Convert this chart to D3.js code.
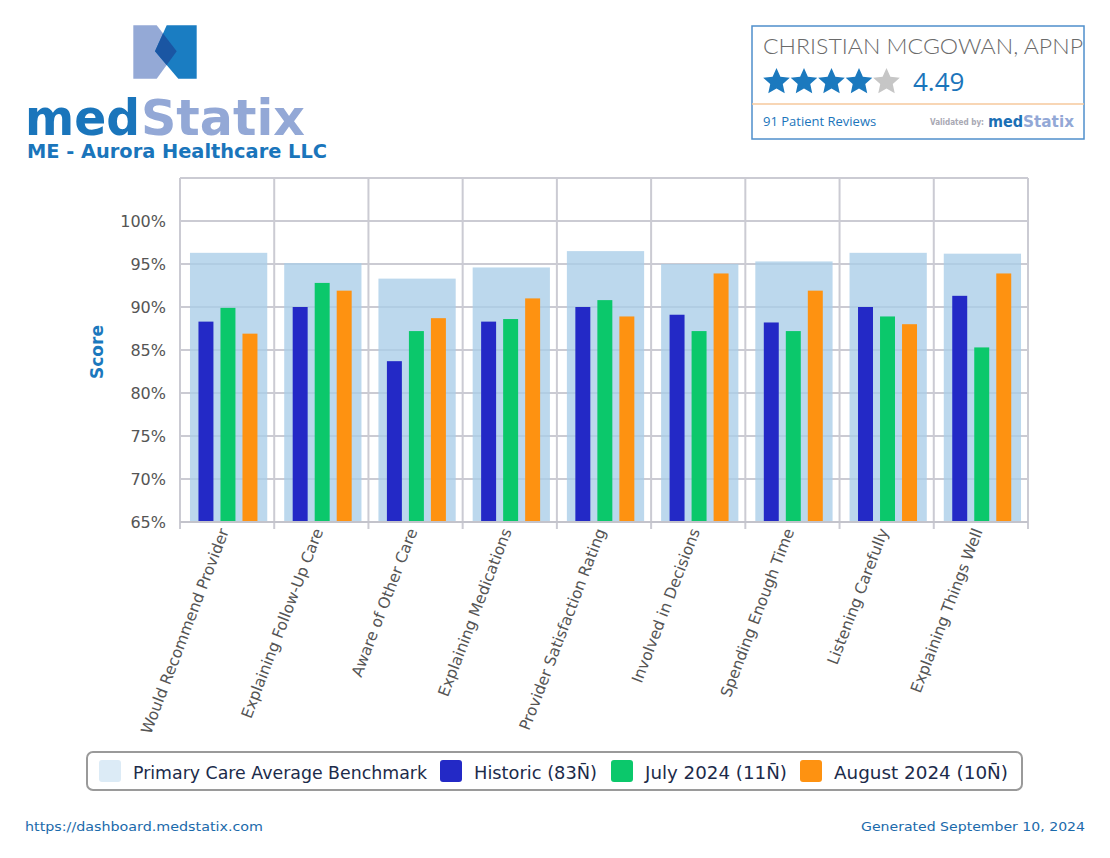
<!DOCTYPE html>
<html>
<head>
<meta charset="utf-8">
<script src="https://cdn.jsdelivr.net/npm/d3@7/dist/d3.min.js"></script>
<style>
  html, body { margin: 0; padding: 0; background: #fff; }
  svg { display: block; }
</style>
</head>
<body>
<svg id="chart" width="1110" height="858"></svg>
<script>
// ---------- DATA ----------
const categories = [
  "Would Recommend Provider",
  "Explaining Follow-Up Care",
  "Aware of Other Care",
  "Explaining Medications",
  "Provider Satisfaction Rating",
  "Involved in Decisions",
  "Spending Enough Time",
  "Listening Carefully",
  "Explaining Things Well"
];
const benchmark = [96.3, 95.1, 93.3, 94.6, 96.5, 95.0, 95.3, 96.3, 96.2];
const historic  = [88.3, 90.0, 83.7, 88.3, 90.0, 89.1, 88.2, 90.0, 91.3];
const july2024  = [89.9, 92.8, 87.2, 88.6, 90.8, 87.2, 87.2, 88.9, 85.3];
const aug2024   = [86.9, 91.9, 88.7, 91.0, 88.9, 93.9, 91.9, 88.0, 93.9];
const seriesNames = ["Historic (83N\u0304)", "July 2024 (11N\u0304)", "August 2024 (10N\u0304)"];
const legendNames = ["Primary Care Average Benchmark"].concat(seriesNames);
const yTicks = [65, 70, 75, 80, 85, 90, 95, 100];
const yDomain = [65, 105];

const seriesData = [historic, july2024, aug2024];
const seriesColors = ["#2329c6", "#0bc86b", "#fe9211"];
const benchColor = "#a9cde8";

const svg = d3.select("#chart");
const FONT = "DejaVu Sans, Verdana, sans-serif";
const defs = svg.append("defs");

// ---------- SCALES ----------
const plot = {left: 180, right: 1028, top: 178, bottom: 522};
const x = d3.scaleBand().domain(categories).range([plot.left, plot.right]).paddingInner(0).paddingOuter(0);
const y = d3.scaleLinear().domain(yDomain).range([plot.bottom, plot.top]);
const bw = x.bandwidth();
const xs = d3.scaleBand().domain(d3.range(3)).range([bw * 0.196, bw * 0.822]).paddingInner(0.32).paddingOuter(0);

// ---------- GRID ----------
const grid = svg.append("g");
grid.selectAll("line.h").data(yTicks.concat([105])).join("line")
  .attr("x1", plot.left).attr("x2", plot.right)
  .attr("y1", d => y(d)).attr("y2", d => y(d))
  .attr("stroke", "#cbcbd3").attr("stroke-width", 2);
const bounds = categories.map(c => x(c)).concat([plot.right]);
grid.selectAll("line.v").data(bounds).join("line")
  .attr("x1", d => d).attr("x2", d => d)
  .attr("y1", plot.top).attr("y2", plot.bottom + 7)
  .attr("stroke", "#cbcbd3").attr("stroke-width", 2);

// ---------- BENCHMARK ----------
svg.append("g").selectAll("rect").data(categories).join("rect")
  .attr("x", c => x(c) + bw * 0.106)
  .attr("width", bw * 0.82)
  .attr("y", (c, i) => y(benchmark[i]))
  .attr("height", (c, i) => y(65) - y(benchmark[i]))
  .attr("fill", benchColor).attr("fill-opacity", 0.78);

// ---------- SERIES BARS ----------
seriesData.forEach((vals, s) => {
  svg.append("g").selectAll("rect").data(categories).join("rect")
    .attr("x", c => x(c) + xs(s))
    .attr("width", xs.bandwidth())
    .attr("y", (c, i) => y(vals[i]))
    .attr("height", (c, i) => y(65) - y(vals[i]))
    .attr("fill", seriesColors[s]);
});

// baseline
svg.append("line").attr("x1", plot.left).attr("x2", plot.right)
  .attr("y1", y(65)).attr("y2", y(65)).attr("stroke", "#c3c3cb").attr("stroke-width", 2);

// ---------- Y AXIS ----------
const yAxis = d3.axisLeft(y).tickValues(yTicks).tickFormat(d => d + "%").tickSize(0).tickPadding(14);
const ya = svg.append("g").attr("transform", `translate(${plot.left},0)`).call(yAxis);
ya.select(".domain").remove();
ya.selectAll("text").attr("font-family", FONT).attr("font-size", 16).attr("fill", "#555").attr("dy", "0.35em");

svg.append("text")
  .attr("transform", `translate(103,${(y(65) + y(105)) / 2 + 2}) rotate(-90)`)
  .attr("text-anchor", "middle")
  .attr("font-family", FONT).attr("font-weight", "bold").attr("font-size", 17)
  .attr("fill", "#1b78bd").text("Score");

// ---------- X LABELS ----------
const xAxis = d3.axisBottom(x).tickSize(0).tickPadding(0);
const xa = svg.append("g").attr("transform", `translate(0,${plot.bottom})`).call(xAxis);
xa.select(".domain").remove();
xa.selectAll("text")
  .attr("font-family", FONT).attr("font-size", 15.5).attr("fill", "#555")
  .attr("text-anchor", "end")
  .attr("dy", 0).attr("y", 0)
  .attr("transform", "translate(2,9) rotate(-69)");

// ---------- LEGEND ----------
const lg = svg.append("g");
lg.append("rect").attr("x", 87).attr("y", 752).attr("width", 935).attr("height", 38)
  .attr("rx", 6).attr("fill", "#fff").attr("stroke", "#9a9a9a").attr("stroke-width", 2);
const legendX = [99, 440, 611, 800];
const legendW = [294, 123, 142, 174];
const legendColors = ["#dcebf6"].concat(seriesColors);
legendNames.forEach((n, i) => {
  lg.append("rect").attr("x", legendX[i]).attr("y", 760).attr("width", 22).attr("height", 22)
    .attr("rx", 3).attr("fill", legendColors[i]);
  lg.append("text").attr("x", legendX[i] + 34).attr("y", 779)
    .attr("font-family", FONT).attr("font-size", 17).attr("fill", "#1c2b4a")
    .attr("textLength", legendW[i]).attr("lengthAdjust", "spacingAndGlyphs").text(n);
});

// ---------- LOGO ----------
const logo = svg.append("g");
const lightPts = [[133.3,25.3],[156.7,25.3],[176.7,51.3],[156.7,78.7],[133.3,78.7]];
const darkPts = [[166.7,25.3],[196.7,25.3],[196.7,78.7],[178.3,78.7],[155,51.3]];
const line = d3.line();
defs.append("clipPath").attr("id", "lightclip")
  .append("path").attr("d", line(lightPts) + "Z");
logo.append("path").attr("d", line(lightPts) + "Z").attr("fill", "#94a9d6");
logo.append("path").attr("d", line(darkPts) + "Z").attr("fill", "#1a7dc2");
logo.append("path").attr("d", line(darkPts) + "Z").attr("fill", "#1a56a3").attr("clip-path", "url(#lightclip)");

logo.append("text").attr("x", 25).attr("y", 135)
  .attr("font-family", "DejaVu Sans, sans-serif").attr("font-weight", "bold").attr("font-size", 50)
  .attr("textLength", 115).attr("lengthAdjust", "spacingAndGlyphs")
  .attr("fill", "#1a75bb").text("med");
logo.append("text").attr("x", 141).attr("y", 135)
  .attr("font-family", "DejaVu Sans, sans-serif").attr("font-weight", "bold").attr("font-size", 50)
  .attr("textLength", 164).attr("lengthAdjust", "spacingAndGlyphs")
  .attr("fill", "#93a8d6").text("Statix");
logo.append("text").attr("x", 27).attr("y", 158)
  .attr("font-family", FONT).attr("font-weight", "bold").attr("font-size", 19)
  .attr("textLength", 300).attr("lengthAdjust", "spacingAndGlyphs")
  .attr("fill", "#1a75bb").text("ME - Aurora Healthcare LLC");

// ---------- REVIEW BOX ----------
const rb = svg.append("g");
rb.append("rect").attr("x", 752).attr("y", 26).attr("width", 332).attr("height", 113)
  .attr("fill", "#fff").attr("stroke", "#4f8fcb").attr("stroke-width", 1.5);
rb.append("text").attr("x", 763).attr("y", 54)
  .attr("font-family", "Lato, 'Open Sans', sans-serif").attr("font-size", 21).attr("font-weight", 300)
  .attr("textLength", 320).attr("lengthAdjust", "spacingAndGlyphs")
  .attr("fill", "#6a6a6a").text("CHRISTIAN MCGOWAN, APNP");
const rating = 4.49;
const starCenters = d3.range(5).map(i => 776.5 + i * 27.5);
const starPts = d3.range(10).map(k => {
  const r = k % 2 === 0 ? 14 : 6.6;
  const a = -Math.PI / 2 + k * Math.PI / 5;
  return [r * Math.cos(a), r * Math.sin(a)];
});
const starD = line(starPts) + "Z";
defs.append("clipPath").attr("id", "starclip").append("rect")
  .attr("x", starCenters[4] - 14).attr("y", 60).attr("width", 28 * (rating - 4)).attr("height", 40);
starCenters.forEach((cx, i) => {
  if (i < 4) {
    rb.append("path").attr("d", starD).attr("transform", `translate(${cx},82)`).attr("fill", "#1b79be");
  } else {
    rb.append("path").attr("d", starD).attr("transform", `translate(${cx},82)`).attr("fill", "#c6c6c6");
    rb.append("path").attr("d", starD).attr("transform", `translate(${cx},82)`).attr("fill", "#1b79be")
      .attr("clip-path", "url(#starclip)");
  }
});
rb.append("text").attr("x", 913).attr("y", 91)
  .attr("font-family", "'Open Sans', sans-serif").attr("font-size", 26)
  .attr("fill", "#1b75bb").text(rating.toFixed(2));
rb.append("line").attr("x1", 752).attr("x2", 1084).attr("y1", 104).attr("y2", 104)
  .attr("stroke", "#f6c99c").attr("stroke-width", 1.5);
rb.append("text").attr("x", 763).attr("y", 126)
  .attr("font-family", "'Open Sans', sans-serif").attr("font-size", 13)
  .attr("fill", "#1b75bb").text("91 Patient Reviews");
rb.append("text").attr("x", 930).attr("y", 125)
  .attr("font-family", FONT).attr("font-size", 8).attr("font-weight", "bold")
  .attr("textLength", 54).attr("lengthAdjust", "spacingAndGlyphs")
  .attr("fill", "#a9a9b4").text("Validated by:");
rb.append("text").attr("x", 988).attr("y", 127)
  .attr("font-family", "DejaVu Sans, sans-serif").attr("font-weight", "bold").attr("font-size", 15)
  .attr("textLength", 35).attr("lengthAdjust", "spacingAndGlyphs")
  .attr("fill", "#1a6fb5").text("med");
rb.append("text").attr("x", 1023).attr("y", 127)
  .attr("font-family", "DejaVu Sans, sans-serif").attr("font-weight", "bold").attr("font-size", 15)
  .attr("textLength", 51).attr("lengthAdjust", "spacingAndGlyphs")
  .attr("fill", "#93a8d6").text("Statix");

// ---------- FOOTER ----------
svg.append("text").attr("x", 25).attr("y", 831)
  .attr("font-family", FONT).attr("font-size", 13)
  .attr("textLength", 238).attr("lengthAdjust", "spacingAndGlyphs")
  .attr("fill", "#1b6aab").text("https://dashboard.medstatix.com");
svg.append("text").attr("x", 1085).attr("y", 831).attr("text-anchor", "end")
  .attr("font-family", FONT).attr("font-size", 13)
  .attr("textLength", 224).attr("lengthAdjust", "spacingAndGlyphs")
  .attr("fill", "#1b6aab").text("Generated September 10, 2024");
</script>
</body>
</html>
